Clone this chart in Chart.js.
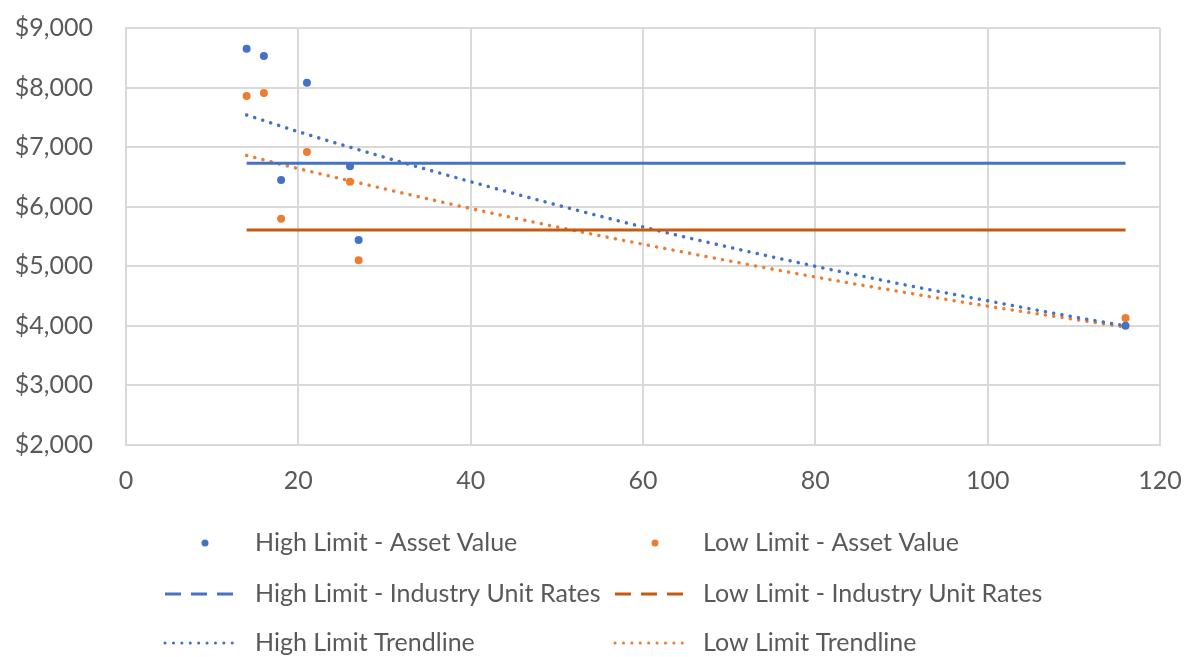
<!DOCTYPE html>
<html>
<head>
<meta charset="utf-8">
<script src="https://cdn.jsdelivr.net/npm/chart.js@4.4.1/dist/chart.umd.min.js"></script>
<style>
  html, body { margin: 0; padding: 0; background: #ffffff; }
  #wrap { width: 1189px; height: 657px; position: relative; }
</style>
</head>
<body>
<div id="wrap"><canvas id="chart" width="1189" height="657"></canvas></div>
<script>
// Asset values by unit count
const unitCounts = [14, 16, 18, 21, 26, 27, 116];
const highAssetValues = [8650, 8530, 6450, 8080, 6680, 5440, 4000];
const lowAssetValues = [7860, 7910, 5800, 6920, 6420, 5100, 4130];

// Industry unit rates (flat across the range)
const rateRange = [14, 116];
const highIndustryRate = [6730, 6730];
const lowIndustryRate = [5610, 5610];

// Exponential trendlines, sampled along the unit range
const trendX = [14, 20, 30, 40, 50, 60, 70, 80, 90, 100, 110, 116];
const highTrend = [7540, 7260, 6830, 6420, 6030, 5660, 5320, 5000, 4700, 4420, 4150, 4000];
const lowTrend = [6860, 6640, 6300, 5970, 5660, 5370, 5090, 4820, 4570, 4330, 4110, 3980];

// Axis ticks
const xTicks = [0, 20, 40, 60, 80, 100, 120];
const yTicks = [2000, 3000, 4000, 5000, 6000, 7000, 8000, 9000];

const BLUE = '#4472C4';
const ORANGE = '#ED7D31';
const DARK_ORANGE = '#C55A11';
const TEXT = '#595959';
const GRID = '#D9D9D9';
const FONT = 'Lato, "Open Sans", sans-serif';
const FONT_SIZE = 25;

const pts = (xs, ys) => xs.map((x, i) => ({ x: x, y: ys[i] }));

// Two-column legend drawn under the plot
const gridLegend = {
  id: 'gridLegend',
  afterDraw(chart) {
    const ctx = chart.ctx;
    const cols = [{ sx: 165, tx: 255 }, { sx: 615, tx: 703 }];
    const rows = [543, 594, 643];
    const sw = 75;
    ctx.save();
    ctx.font = FONT_SIZE + 'px ' + FONT;
    ctx.textBaseline = 'middle';
    chart.data.datasets.forEach((ds, i) => {
      const c = cols[i % 2];
      const y = rows[Math.floor(i / 2)];
      ctx.save();
      if (ds.legendKind === 'point') {
        ctx.fillStyle = ds.backgroundColor;
        ctx.beginPath();
        ctx.arc(c.sx + 40, y, 3.5, 0, Math.PI * 2);
        ctx.fill();
      } else {
        ctx.strokeStyle = ds.borderColor;
        ctx.lineWidth = 3;
        if (ds.legendKind === 'dash') {
          ctx.lineCap = 'butt';
          ctx.setLineDash([16, 10]);
        } else {
          ctx.lineCap = 'round';
          ctx.setLineDash([0.1, 8.3]);
        }
        ctx.beginPath();
        ctx.moveTo(c.sx, y);
        ctx.lineTo(c.sx + sw, y);
        ctx.stroke();
      }
      ctx.restore();
      ctx.fillStyle = TEXT;
      ctx.fillText(ds.label, c.tx, y);
    });
    ctx.restore();
  }
};

new Chart(document.getElementById('chart'), {
  type: 'scatter',
  data: {
    datasets: [
      { label: 'High Limit - Asset Value', legendKind: 'point', data: pts(unitCounts, highAssetValues),
        backgroundColor: BLUE, borderColor: BLUE, pointRadius: 4, pointBorderWidth: 0, showLine: false },
      { label: 'Low Limit - Asset Value', legendKind: 'point', data: pts(unitCounts, lowAssetValues),
        backgroundColor: ORANGE, borderColor: ORANGE, pointRadius: 4, pointBorderWidth: 0, showLine: false },
      { label: 'High Limit - Industry Unit Rates', legendKind: 'dash', data: pts(rateRange, highIndustryRate),
        borderColor: BLUE, backgroundColor: BLUE, borderWidth: 3, showLine: true, pointRadius: 0 },
      { label: 'Low Limit - Industry Unit Rates', legendKind: 'dash', data: pts(rateRange, lowIndustryRate),
        borderColor: DARK_ORANGE, backgroundColor: DARK_ORANGE, borderWidth: 3, showLine: true, pointRadius: 0 },
      { label: 'High Limit Trendline', legendKind: 'dot', data: pts(trendX, highTrend),
        borderColor: BLUE, backgroundColor: BLUE, borderWidth: 3.5, borderDash: [0.1, 8.3], borderCapStyle: 'round',
        showLine: true, pointRadius: 0, cubicInterpolationMode: 'monotone' },
      { label: 'Low Limit Trendline', legendKind: 'dot', data: pts(trendX, lowTrend),
        borderColor: ORANGE, backgroundColor: ORANGE, borderWidth: 3.5, borderDash: [0.1, 8.3], borderCapStyle: 'round',
        showLine: true, pointRadius: 0, cubicInterpolationMode: 'monotone' }
    ]
  },
  options: {
    responsive: false,
    animation: false,
    layout: { padding: { left: 0, right: 29, top: 28, bottom: 130 } },
    plugins: { legend: { display: false }, tooltip: { enabled: false } },
    scales: {
      x: {
        type: 'linear', min: 0, max: 120,
        afterBuildTicks: (s) => { s.ticks = xTicks.map(v => ({ value: v })); },
        afterFit: (s) => { s.height = 82; },
        grid: { color: GRID, lineWidth: 2, drawTicks: true, tickLength: 21, tickColor: 'rgba(0,0,0,0)' },
        border: { color: GRID, width: 2 },
        ticks: { color: TEXT, font: { family: FONT, size: FONT_SIZE }, padding: 0, maxRotation: 0 }
      },
      y: {
        type: 'linear', min: 2000, max: 9000,
        afterBuildTicks: (s) => { s.ticks = yTicks.map(v => ({ value: v })); },
        afterFit: (s) => { s.width = 126; },
        grid: { color: GRID, lineWidth: 2, drawTicks: true, tickLength: 33, tickColor: 'rgba(0,0,0,0)' },
        border: { color: GRID, width: 2 },
        ticks: { color: TEXT, font: { family: FONT, size: FONT_SIZE }, padding: 0,
          callback: (v) => '$' + Number(v).toLocaleString('en-US') }
      }
    }
  },
  plugins: [gridLegend]
});
</script>
</body>
</html>
